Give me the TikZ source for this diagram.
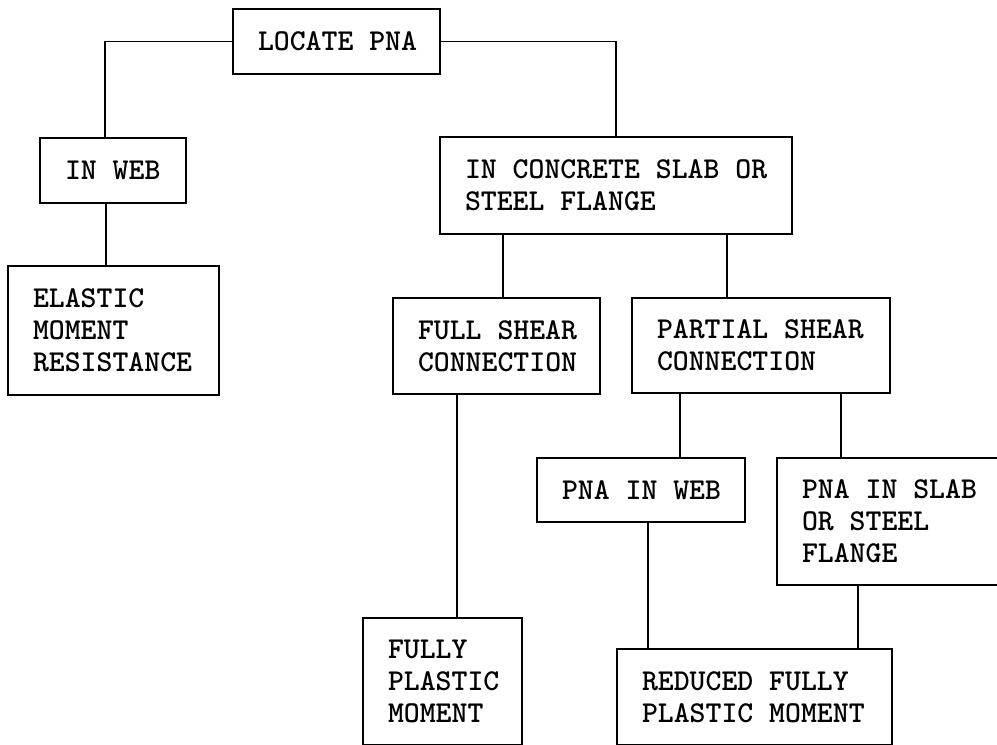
\documentclass[tikz,border=0pt]{standalone}
\usepackage{fontspec}
\usetikzlibrary{calc}
\newcommand{\myboxfont}{\fontsize{30.3}{32}\selectfont\ttfamily\bfseries}
\newcommand{\bsp}{\hspace*{15.9pt}}
\begin{document}
\begin{tikzpicture}[x=1pt,y=-1pt,
  box/.style={draw, line width=1.5pt, align=left, inner xsep=0pt, inner ysep=0pt,
    font=\myboxfont},
  conn/.style={line width=1.5pt}]
\useasboundingbox (0,0) rectangle (997,745);
\fill[white] (0,0) rectangle (997,745);
% boxes
\node[box, minimum width=207pt, minimum height=65pt, text width=157pt] (loc) at (336.5,41.5) {LOCATE\bsp PNA};
\node[box, minimum width=146pt, minimum height=65pt, text width=96pt] (web) at (113,170.5) {IN\bsp WEB};
\node[box, minimum width=211pt, minimum height=129pt, text width=161pt] (ela) at (113.5,330.5) {ELASTIC\\MOMENT\\RESISTANCE};
\node[box, minimum width=352pt, minimum height=97pt, text width=302pt] (conc) at (616,185.5) {IN\bsp CONCRETE\bsp SLAB\bsp OR\\STEEL\bsp FLANGE};
\node[box, minimum width=207pt, minimum height=96pt, text width=157pt] (full) at (496.5,346) {FULL\bsp SHEAR\\CONNECTION};
\node[box, minimum width=258pt, minimum height=95pt, text width=208pt] (part) at (761,345.5) {PARTIAL\bsp SHEAR\\CONNECTION};
\node[box, minimum width=208pt, minimum height=64pt, text width=158pt] (pweb) at (641,490) {PNA\bsp IN\bsp WEB};
\node[box, minimum width=224pt, minimum height=127pt, text width=174pt] (pslab) at (889,521.5) {PNA\bsp IN\bsp SLAB\\OR\bsp STEEL\\FLANGE};
\node[box, minimum width=159pt, minimum height=127pt, text width=109pt] (fpm) at (442.5,681.5) {FULLY\\PLASTIC\\MOMENT};
\node[box, minimum width=275pt, minimum height=96pt, text width=225pt] (red) at (754.5,697) {REDUCED\bsp FULLY\\PLASTIC\bsp MOMENT};
% connection points
\coordinate (a1) at ([xshift=-7pt]web.south);
\coordinate (a2) at ([xshift=-113pt]conc.south);
\coordinate (a3) at ([xshift=111pt]conc.south);
\coordinate (a4) at ([xshift=-39.5pt]full.south);
\coordinate (a5) at ([xshift=-81pt]part.south);
\coordinate (a6) at ([xshift=80pt]part.south);
\coordinate (a7) at ([xshift=7pt]pweb.south);
\coordinate (a8) at ([xshift=-31pt]pslab.south);
% connectors
\draw[conn] (loc.west) -| ([xshift=-8pt]web.north);
\draw[conn] (loc.east) -| (conc.north);
\draw[conn] (a1) -- (a1 |- ela.north);
\draw[conn] (a2) -- (a2 |- full.north);
\draw[conn] (a3) -- (a3 |- part.north);
\draw[conn] (a4) -- (a4 |- fpm.north);
\draw[conn] (a5) -- (a5 |- pweb.north);
\draw[conn] (a6) -- (a6 |- pslab.north);
\draw[conn] (a7) -- (a7 |- red.north);
\draw[conn] (a8) -- (a8 |- red.north);
\end{tikzpicture}
\end{document}
